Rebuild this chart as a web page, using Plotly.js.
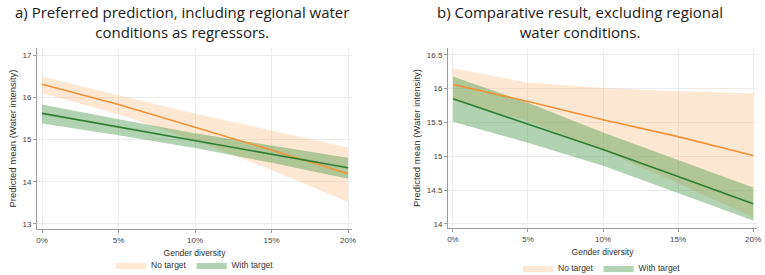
<!DOCTYPE html>
<html><head><meta charset="utf-8">
<script src="https://cdn.plot.ly/plotly-3.0.1.min.js"></script>
<style>html,body{margin:0;padding:0;background:#fff}#chart{width:765px;height:275px}</style>
</head><body><div id="chart"></div>
<script>
// Gender diversity (%)
var genderDiv = [0, 5, 10, 15, 20];
var xTickVals = [0, 5, 10, 15, 20];
var xTickText = ['0%', '5%', '10%', '15%', '20%'];

// Panel a) including regional water conditions
var aNoMean  = [16.31, 15.83, 15.29, 14.75, 14.19];
var aNoUp    = [16.50, 16.05, 15.62, 15.22, 14.81];
var aNoLow   = [16.10, 15.60, 14.98, 14.28, 13.52];
var aWithMean= [15.62, 15.30, 14.98, 14.65, 14.33];
var aWithUp  = [15.83, 15.48, 15.15, 14.86, 14.57];
var aWithLow = [15.38, 15.10, 14.80, 14.45, 14.07];

// Panel b) excluding regional water conditions
var bNoMean  = [16.06, 15.81, 15.54, 15.29, 15.01];
var bNoUp    = [16.30, 16.09, 16.01, 15.96, 15.93];
var bNoLow   = [15.82, 15.52, 15.08, 14.60, 14.10];
var bWithMean= [15.85, 15.48, 15.10, 14.70, 14.30];
var bWithUp  = [16.18, 15.79, 15.35, 14.95, 14.54];
var bWithLow = [15.51, 15.20, 14.86, 14.45, 14.05];

var aYTicks = [13, 14, 15, 16, 17];
var bYTicks = [14, 14.5, 15, 15.5, 16, 16.5];

var titleA = 'a) Preferred prediction, including regional water<br>conditions as regressors.';
var titleB = 'b) Comparative result, excluding regional<br>water conditions.';
var xTitle = 'Gender diversity';
var yTitle = 'Predicted mean (Water intensity)';
var seriesNames = ['No target', 'With target'];

var orangeLine = '#f39236', orangeFill = 'rgba(252,185,120,0.33)';
var greenLine = '#2f7d32', greenFill = 'rgba(70,150,70,0.42)';

function band(x, up, low, fill, name, xa, ya, leg) {
  return [
    {x: x, y: up, type: 'scatter', mode: 'lines', line: {width: 0, color: fill}, showlegend: false, hoverinfo: 'skip', xaxis: xa, yaxis: ya},
    {x: x, y: low, type: 'scatter', mode: 'lines', line: {width: 0, color: fill}, fill: 'tonexty', fillcolor: fill, name: name, showlegend: true, legend: leg, xaxis: xa, yaxis: ya}
  ];
}
function line(x, y, c, xa, ya) {
  return {x: x, y: y, type: 'scatter', mode: 'lines', line: {width: 1.6, color: c}, showlegend: false, xaxis: xa, yaxis: ya};
}

var data = [].concat(
  band(genderDiv, aNoUp, aNoLow, orangeFill, seriesNames[0], 'x', 'y', 'legend'),
  band(genderDiv, aWithUp, aWithLow, greenFill, seriesNames[1], 'x', 'y', 'legend'),
  [line(genderDiv, aNoMean, orangeLine, 'x', 'y'), line(genderDiv, aWithMean, greenLine, 'x', 'y')],
  band(genderDiv, bNoUp, bNoLow, orangeFill, seriesNames[0], 'x2', 'y2', 'legend2'),
  band(genderDiv, bWithUp, bWithLow, greenFill, seriesNames[1], 'x2', 'y2', 'legend2'),
  [line(genderDiv, bNoMean, orangeLine, 'x2', 'y2'), line(genderDiv, bWithMean, greenLine, 'x2', 'y2')]
);

var W = 765, H = 275;
var sans = 'Liberation Sans, Arial, sans-serif';
var tickFont = {family: sans, size: 8, color: '#444'};
function xax(l, r, anchor) {
  return {domain: [l / W, r / W], range: [-0.33, 20.26], anchor: anchor, tickvals: xTickVals, ticktext: xTickText,
    showgrid: true, gridcolor: '#ececec', gridwidth: 1, zeroline: false, showline: true, linecolor: '#999', linewidth: 1,
    ticks: 'outside', ticklen: 3, tickcolor: '#999', tickfont: tickFont,
    title: {text: xTitle, font: {family: sans, size: 8.5, color: '#333'}, standoff: 6}};
}
function yax(top, bot, range, ticks, anchor) {
  return {domain: [(H - bot) / H, (H - top) / H], range: range, anchor: anchor, tickvals: ticks,
    showgrid: true, gridcolor: '#ececec', gridwidth: 1, zeroline: false, showline: true, linecolor: '#999', linewidth: 1,
    ticks: 'outside', ticklen: 3, tickcolor: '#999', tickfont: tickFont,
    title: {text: yTitle, font: {family: sans, size: 9.5, color: '#333'}, standoff: 4}};
}

var layout = {
  width: W, height: H, margin: {l: 0, r: 0, t: 0, b: 0, autoexpand: false}, paper_bgcolor: '#fff', plot_bgcolor: '#fff',
  xaxis: xax(37, 352, 'y'),
  yaxis: yax(48, 229, [12.88, 17.17], aYTicks, 'x'),
  xaxis2: xax(448, 757, 'y2'),
  yaxis2: yax(48, 228, [13.94, 16.6], bYTicks, 'x2'),
  legend: {orientation: 'h', traceorder: 'normal', x: 195 / W, xanchor: 'center', y: 10 / H, yanchor: 'middle', font: {family: sans, size: 8.5, color: '#333'}, bgcolor: 'rgba(0,0,0,0)'},
  legend2: {orientation: 'h', traceorder: 'normal', x: 602 / W, xanchor: 'center', y: 7 / H, yanchor: 'middle', font: {family: sans, size: 8.5, color: '#333'}, bgcolor: 'rgba(0,0,0,0)'},
  annotations: [
    {text: titleA, xref: 'paper', yref: 'paper', x: 182 / W, y: 1, xanchor: 'center', yanchor: 'top', showarrow: false, font: {family: 'Open Sans, sans-serif', size: 15, color: '#1a1a1a'}},
    {text: titleB, xref: 'paper', yref: 'paper', x: 580 / W, y: 1, xanchor: 'center', yanchor: 'top', showarrow: false, font: {family: 'Open Sans, sans-serif', size: 15, color: '#1a1a1a'}}
  ]
};

Plotly.newPlot('chart', data, layout, {displayModeBar: false, staticPlot: true});
</script></body></html>
